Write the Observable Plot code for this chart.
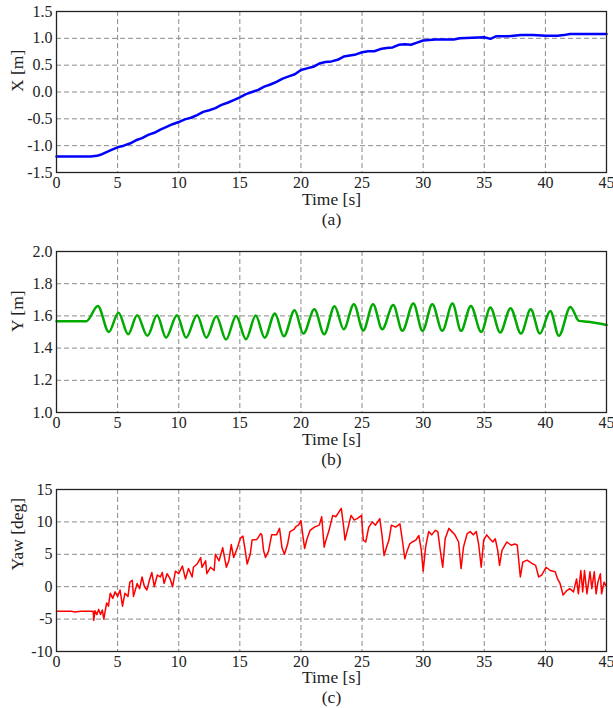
<!DOCTYPE html>
<html><head><meta charset="utf-8">
<script src="https://cdn.jsdelivr.net/npm/d3@7"></script>
<script src="https://cdn.jsdelivr.net/npm/@observablehq/plot@0.6"></script>
<style>
body{margin:0;background:#fff}
#chart svg{display:block}
#chart svg, #chart svg text{font-family:'Liberation Serif', 'DejaVu Serif', serif !important;}
</style>
</head><body><div id="chart"></div>
<script>
const xTicks = [0, 5, 10, 15, 20, 25, 30, 35, 40, 45];
const xLabel = "Time [s]";

// Panel (a): X position
const tX = [0, 2.8, 3.3, 3.6, 4.0, 4.5, 5.0, 5.5, 6.0, 6.5, 7.0, 7.5, 8.0, 8.5, 9.0, 9.5, 10, 10.5, 11, 11.5, 12, 12.5, 13, 13.5, 14, 14.5, 15, 15.5, 16, 16.5, 17, 17.5, 18, 18.5, 19, 19.5, 20, 20.5, 21, 21.5, 22, 22.5, 23, 23.5, 24, 24.5, 25, 25.5, 26, 26.5, 27, 27.5, 28, 28.5, 29, 29.5, 30, 31, 32, 32.5, 33, 34, 35, 35.5, 36, 37, 38, 39, 40, 41, 41.5, 42, 43, 44, 45];
const valX = [-1.2, -1.2, -1.19, -1.17, -1.13, -1.08, -1.03, -1.0, -0.96, -0.9, -0.86, -0.8, -0.76, -0.7, -0.65, -0.6, -0.56, -0.51, -0.48, -0.43, -0.37, -0.34, -0.3, -0.24, -0.2, -0.15, -0.1, -0.04, 0.0, 0.04, 0.1, 0.14, 0.19, 0.25, 0.29, 0.33, 0.41, 0.44, 0.47, 0.53, 0.56, 0.57, 0.6, 0.66, 0.68, 0.70, 0.74, 0.76, 0.76, 0.8, 0.82, 0.83, 0.88, 0.89, 0.88, 0.92, 0.96, 0.98, 0.98, 0.98, 1.0, 1.01, 1.02, 0.99, 1.04, 1.04, 1.06, 1.06, 1.05, 1.05, 1.06, 1.08, 1.08, 1.08, 1.08];
const ticksX = [-1.5, -1.0, -0.5, 0.0, 0.5, 1.0, 1.5];

// Panel (b): Y position (extrema of the oscillation)
const tY = [0, 2.45, 3.38, 4.28, 5.07, 5.86, 6.6, 7.44, 8.23, 8.96, 9.86, 10.6, 11.5, 12.26, 13.08, 13.87, 14.7, 15.5, 16.3, 17.03, 17.87, 18.6, 19.48, 20.2, 21.1, 21.9, 22.75, 23.5, 24.33, 25.1, 25.9, 26.65, 27.55, 28.3, 29.2, 29.95, 30.75, 31.56, 32.4, 33.1, 33.9, 34.75, 35.5, 36.3, 37.15, 38.0, 38.8, 39.55, 40.4, 41.1, 42.05, 42.75, 43.5, 45];
const valY = [1.567, 1.567, 1.662, 1.50, 1.62, 1.486, 1.604, 1.476, 1.604, 1.465, 1.604, 1.465, 1.604, 1.465, 1.598, 1.453, 1.60, 1.455, 1.602, 1.465, 1.615, 1.473, 1.635, 1.49, 1.641, 1.486, 1.66, 1.517, 1.673, 1.51, 1.673, 1.517, 1.667, 1.507, 1.677, 1.507, 1.673, 1.507, 1.677, 1.507, 1.662, 1.50, 1.652, 1.497, 1.648, 1.49, 1.641, 1.49, 1.631, 1.476, 1.656, 1.569, 1.563, 1.544];
const ticksY = [1.0, 1.2, 1.4, 1.6, 1.8, 2.0];

// Panel (c): Yaw
const tYaw = [0, 1.2, 1.5, 2.0, 3.0, 3.05, 3.15, 3.3, 3.45, 3.6, 3.75, 3.87, 4.1, 4.25, 4.4, 4.6, 4.8, 5.0, 5.2, 5.4, 5.6, 5.85, 6.0, 6.2, 6.3, 6.6, 6.8, 7.0, 7.2, 7.4, 7.6, 7.8, 8.0, 8.25, 8.5, 8.65, 8.8, 9.05, 9.3, 9.5, 9.73, 10.0, 10.3, 10.55, 10.8, 11.1, 11.2, 11.5, 11.8, 11.9, 12.2, 12.3, 12.6, 12.9, 13.0, 13.3, 13.6, 13.9, 14.1, 14.3, 14.5, 14.8, 15.05, 15.25, 15.45, 15.6, 15.85, 16.0, 16.4, 16.7, 16.8, 16.95, 17.1, 17.35, 17.6, 18.0, 18.25, 18.45, 18.65, 18.9, 19.1, 19.4, 19.6, 19.8, 20.0, 20.15, 20.3, 20.5, 20.75, 21.1, 21.5, 21.7, 21.9, 22.0, 22.3, 22.6, 22.85, 23.1, 23.3, 23.5, 23.6, 23.8, 24.1, 24.35, 24.6, 24.95, 25.1, 25.3, 25.55, 25.85, 26.1, 26.45, 26.65, 26.8, 27.0, 27.2, 27.4, 27.75, 28.1, 28.3, 28.5, 28.7, 28.9, 29.1, 29.4, 29.65, 29.85, 30.0, 30.2, 30.45, 30.7, 31.0, 31.2, 31.4, 31.6, 31.8, 32.1, 32.35, 32.6, 32.9, 33.1, 33.3, 33.6, 33.85, 34.1, 34.35, 34.55, 34.75, 34.95, 35.2, 35.45, 35.7, 35.9, 36.1, 36.25, 36.45, 36.6, 36.85, 37.2, 37.5, 37.7, 37.95, 38.15, 38.5, 38.9, 39.2, 39.45, 39.7, 40.05, 40.4, 40.8, 41.0, 41.2, 41.45, 41.75, 42.0, 42.3, 42.55, 42.7, 42.9, 43.05, 43.2, 43.4, 43.65, 43.8, 44.0, 44.15, 44.3, 44.5, 44.6, 44.8, 45];
const valYaw = [-3.8, -3.8, -3.9, -3.8, -3.8, -5.2, -3.7, -4.3, -3.5, -4.3, -3.6, -5.0, -2.5, -3.0, -1.0, -1.8, -0.8, -1.5, -0.5, -3.0, -1.0, -1.5, 0.7, 1.0, -1.5, 0.5, -0.3, 1.5, 0, -0.5, 1.0, 2.2, 0, 1.8, 1.5, 2.2, 0.5, 2.0, 1.2, 0, 2.4, 2.0, 3.2, 1.2, 2.8, 1.5, 3.0, 3.5, 4.5, 3.0, 4.0, 2.0, 3.0, 2.5, 5.0, 4.0, 6.0, 3.0, 4.0, 6.5, 4.5, 6.0, 7.5, 7.8, 5.5, 3.5, 5.0, 7.2, 7.3, 8.2, 8.0, 5.5, 4.5, 5.5, 8.0, 8.0, 9.0, 6.0, 5.0, 6.5, 8.5, 8.8, 9.3, 9.5, 10.2, 8.0, 5.9, 7.4, 8.7, 9.2, 9.5, 10.8, 6.1, 6.9, 8.7, 11.0, 10.8, 11.5, 12.1, 9.2, 7.2, 8.7, 11.0, 10.3, 10.5, 11.0, 7.2, 6.9, 9.2, 10.0, 9.5, 10.5, 7.7, 4.8, 6.1, 7.2, 9.5, 9.2, 9.7, 7.2, 4.3, 5.6, 6.6, 6.9, 7.2, 7.9, 5.6, 2.4, 6.1, 8.5, 8.0, 8.7, 8.5, 5.6, 3.0, 7.4, 9.0, 8.5, 8.0, 6.9, 2.8, 6.1, 8.2, 8.5, 8.0, 8.5, 6.4, 3.0, 7.2, 8.0, 7.4, 6.9, 7.4, 5.6, 3.3, 5.6, 6.1, 6.9, 6.4, 6.6, 6.4, 1.5, 3.8, 4.1, 3.6, 3.3, 1.5, 1.8, 3.0, 2.5, 2.3, 1.2, 0.5, -1.3, -0.6, -0.3, -0.8, 1.2, -1.1, 2.5, -0.8, 2.5, -1.1, 2.3, -0.3, 2.3, -1.1, 0.7, 2.0, -1.1, 0.7, 0];
const ticksYaw = [-10, -5, 0, 5, 10, 15];

const FONT = "'Liberation Serif', 'DejaVu Serif', serif";

function panel({time, values, color, lineWidth, curve, yTicks, yFmt, yLabel, caption, height, marginBottom, labelDy, capDy}) {
  const data = time.map((t, i) => ({t, v: values[i]}));
  const grid = {stroke: "#8a8a8a", strokeOpacity: 1, strokeWidth: 1, strokeDasharray: "5,3"};
  return Plot.plot({
    width: 613, height, marginTop: 11, marginLeft: 56, marginRight: 7, marginBottom,
    style: {fontFamily: FONT, fontSize: "16px", color: "#222", background: "white", overflow: "visible"},
    x: {domain: [0, 45], label: null},
    y: {domain: [yTicks[0], yTicks[yTicks.length - 1]], label: null},
    marks: [
      Plot.gridX(xTicks, grid),
      Plot.gridY(yTicks, grid),
      Plot.axisX(xTicks, {tickSize: 0, tickPadding: 4, label: null, tickFormat: d => String(d), fontSize: 16}),
      Plot.axisY(yTicks, {tickSize: 0, tickPadding: 4, label: null, tickFormat: yFmt, fontSize: 16}),
      Plot.line(data, {x: "t", y: "v", stroke: color, strokeWidth: lineWidth, curve}),
      Plot.frame({stroke: "#222", strokeWidth: 1.3}),
      Plot.text([xLabel], {frameAnchor: "bottom", lineAnchor: "middle", dy: labelDy, text: d => d, fontSize: 17.5, fill: "#222"}),
      Plot.text([caption], {frameAnchor: "bottom", lineAnchor: "middle", dy: capDy, text: d => d, fontSize: 17.5, fill: "#222"}),
      Plot.text([yLabel], {frameAnchor: "left", lineAnchor: "middle", dx: -39, rotate: -90, text: d => d, fontSize: 17.5, fill: "#222"})
    ]
  });
}

const chart = document.getElementById("chart");
chart.append(panel({time: tX, values: valX, color: "#0000ff", lineWidth: 2.5, curve: "linear",
  yTicks: ticksX, yFmt: d => d.toFixed(1), yLabel: "X [m]", caption: "(a)",
  height: 240, marginBottom: 68, labelDy: 27, capDy: 47}));
chart.append(panel({time: tY, values: valY, color: "#00aa00", lineWidth: 2.5, curve: "monotone-x",
  yTicks: ticksY, yFmt: d => d.toFixed(1), yLabel: "Y [m]", caption: "(b)",
  height: 238, marginBottom: 66, labelDy: 27, capDy: 47}));
chart.append(panel({time: tYaw, values: valYaw, color: "#ff0000", lineWidth: 1.5, curve: "linear",
  yTicks: ticksYaw, yFmt: d => String(d), yLabel: "Yaw [deg]", caption: "(c)",
  height: 230, marginBottom: 57, labelDy: 26, capDy: 46}));
</script>
</body></html>
